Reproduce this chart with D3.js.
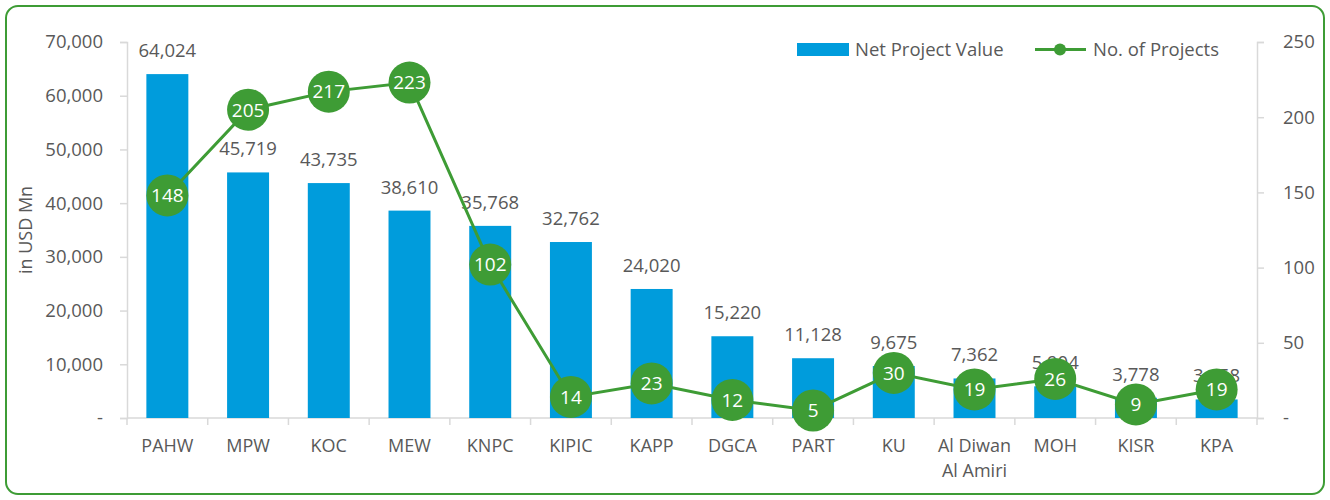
<!DOCTYPE html>
<html>
<head>
<meta charset="utf-8">
<script src="https://cdn.jsdelivr.net/npm/d3@7"></script>
<style>
  body { margin: 0; background: #fff; }
  svg text { font-family: "Open Sans", sans-serif; fill: #595959; }
</style>
</head>
<body>
<svg id="chart" width="1330" height="500"></svg>
<script>
// data
var categories = ['PAHW','MPW','KOC','MEW','KNPC','KIPIC','KAPP','DGCA','PART','KU','Al Diwan Al Amiri','MOH','KISR','KPA'];
var netValue = [64024, 45719, 43735, 38610, 35768, 32762, 24020, 15220, 11128, 9675, 7362, 5904, 3778, 3458];
var projectCount = [148, 205, 217, 223, 102, 14, 23, 12, 5, 30, 19, 26, 9, 19];
var leftTicks = [0, 10000, 20000, 30000, 40000, 50000, 60000, 70000];
var rightTicks = [0, 50, 100, 150, 200, 250];

var BLUE = '#009cdc', GREEN = '#3e9c35', AXIS = '#d9d9d9';

var svg = d3.select('#chart');
var pLeft = 127, pRight = 1257, pTop = 42, pBottom = 418;

// rounded frame
svg.append('rect')
  .attr('x', 6).attr('y', 6).attr('width', 1318).attr('height', 488)
  .attr('rx', 12).attr('fill', '#fff')
  .attr('stroke', GREEN).attr('stroke-width', 2);

var x = d3.scaleBand().domain(categories).range([pLeft, pRight]).paddingInner(0.48).paddingOuter(0.24);
var xc = d3.scaleBand().domain(categories).range([pLeft, pRight]);
var yL = d3.scaleLinear().domain([0, 70000]).range([pBottom, pTop]);
var yR = d3.scaleLinear().domain([0, 250]).range([pBottom, pTop]);

var fmt = d3.format(',');
function tickFmt(d) { return d === 0 ? '-' : fmt(d); }
function cx(i) { return xc(categories[i]) + xc.bandwidth() / 2; }

// left axis
var gl = svg.append('g').attr('transform', 'translate(' + pLeft + ',0)')
  .call(d3.axisLeft(yL).tickValues(leftTicks).tickFormat(tickFmt).tickSize(7).tickPadding(17));
// right axis
var gr = svg.append('g').attr('transform', 'translate(' + pRight + ',0)')
  .call(d3.axisRight(yR).tickValues(rightTicks).tickFormat(tickFmt).tickSize(7).tickPadding(19));
[gl, gr].forEach(function (g) {
  g.select('.domain').attr('stroke', AXIS).attr('stroke-width', 1.5);
  g.selectAll('.tick line').attr('stroke', AXIS).attr('stroke-width', 1.5);
  g.selectAll('.tick text').style('font-size', '18.5px').attr('fill', '#595959')
    .style('font-family', '"Open Sans", sans-serif');
});

// bottom axis line and separators
svg.append('line').attr('x1', pLeft).attr('x2', pRight).attr('y1', pBottom).attr('y2', pBottom)
  .attr('stroke', AXIS).attr('stroke-width', 1.5);
var seps = categories.map(function (c) { return xc(c); }).concat([pRight]);
svg.selectAll('.sep').data(seps).enter().append('line')
  .attr('x1', function (d) { return d; }).attr('x2', function (d) { return d; })
  .attr('y1', pBottom).attr('y2', pBottom + 7)
  .attr('stroke', AXIS).attr('stroke-width', 1.5);

// category labels
svg.selectAll('.cat').data(categories).enter().append('text')
  .attr('text-anchor', 'middle').style('font-size', '18px')
  .attr('x', function (d, i) { return cx(i); })
  .attr('y', 452)
  .each(function (d, i) {
    var t = d3.select(this);
    var lines = d === 'Al Diwan Al Amiri' ? ['Al Diwan', 'Al Amiri'] : [d];
    lines.forEach(function (l, j) {
      t.append('tspan').attr('x', cx(i)).attr('dy', j ? 25 : 0).text(l);
    });
  });

// axis title
svg.append('text').attr('transform', 'translate(32,' + (pTop + pBottom) / 2 + ') rotate(-90)')
  .attr('text-anchor', 'middle').style('font-size', '18px').text('in USD Mn');

// bars
svg.selectAll('.bar').data(netValue).enter().append('rect')
  .attr('x', function (d, i) { return x(categories[i]); })
  .attr('width', x.bandwidth())
  .attr('y', function (d) { return yL(d); })
  .attr('height', function (d) { return pBottom - yL(d); })
  .attr('fill', BLUE);

// bar labels
svg.selectAll('.blab').data(netValue).enter().append('text')
  .attr('text-anchor', 'middle').style('font-size', '18.5px')
  .attr('x', function (d, i) { return cx(i); })
  .attr('y', function (d) { return yL(d) - 17; })
  .text(function (d) { return fmt(d); });

// line
var line = d3.line()
  .x(function (d, i) { return cx(i); })
  .y(function (d) { return yR(d); });
svg.append('path').datum(projectCount).attr('d', line)
  .attr('fill', 'none').attr('stroke', GREEN).attr('stroke-width', 3);

var pts = svg.selectAll('.pt').data(projectCount).enter().append('g')
  .attr('transform', function (d, i) { return 'translate(' + cx(i) + ',' + yR(d) + ')'; });
pts.append('circle').attr('r', 21).attr('fill', GREEN);
pts.append('text').attr('text-anchor', 'middle').attr('dy', '0.36em')
  .style('font-size', '19px').style('fill', '#fff')
  .text(function (d) { return d; });

// legend
var lg = svg.append('g');
lg.append('rect').attr('x', 797).attr('y', 43).attr('width', 52).attr('height', 13).attr('fill', BLUE);
lg.append('text').attr('x', 855).attr('y', 56).style('font-size', '18.5px').text('Net Project Value');
lg.append('line').attr('x1', 1035).attr('x2', 1086).attr('y1', 49.5).attr('y2', 49.5)
  .attr('stroke', GREEN).attr('stroke-width', 3);
lg.append('circle').attr('cx', 1060).attr('cy', 49.5).attr('r', 6).attr('fill', GREEN);
lg.append('text').attr('x', 1093).attr('y', 56).style('font-size', '18.5px').text('No. of Projects');
</script>
</body>
</html>
